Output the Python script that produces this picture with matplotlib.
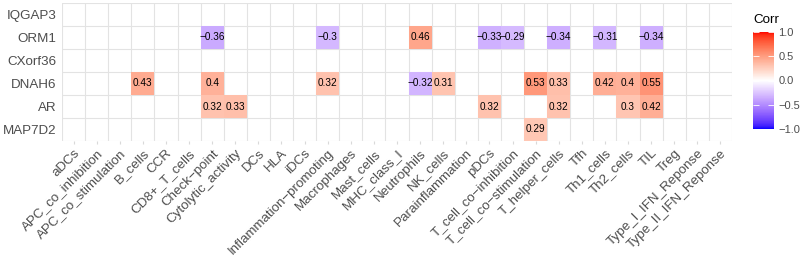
import matplotlib
matplotlib.use("Agg")
import matplotlib.pyplot as plt
import numpy as np
from matplotlib.colors import ListedColormap

plt.rcParams['font.family'] = ['Liberation Sans', 'DejaVu Sans']

genes = ["IQGAP3", "ORM1", "CXorf36", "DNAH6", "AR", "MAP7D2"]
cells = ["aDCs", "APC_co_inhibition", "APC_co_stimulation", "B_cells", "CCR",
         "CD8+_T_cells", "Check\u2212point", "Cytolytic_activity", "DCs", "HLA",
         "iDCs", "Inflammation\u2212promoting", "Macrophages", "Mast_cells",
         "MHC_class_I", "Neutrophils", "NK_cells", "Parainflammation", "pDCs",
         "T_cell_co\u2212inhibition", "T_cell_co\u2212stimulation", "T_helper_cells",
         "Tfh", "Th1_cells", "Th2_cells", "TIL", "Treg", "Type_I_IFN_Reponse",
         "Type_II_IFN_Reponse"]

# significant correlations only: (gene, cell, value)
sig_gene = ["ORM1", "ORM1", "ORM1", "ORM1", "ORM1", "ORM1", "ORM1", "ORM1",
            "DNAH6", "DNAH6", "DNAH6", "DNAH6", "DNAH6", "DNAH6", "DNAH6", "DNAH6",
            "DNAH6", "DNAH6",
            "AR", "AR", "AR", "AR", "AR", "AR",
            "MAP7D2"]
sig_cell = ["Check\u2212point", "Inflammation\u2212promoting", "Neutrophils", "pDCs",
            "T_cell_co\u2212inhibition", "T_helper_cells", "Th1_cells", "TIL",
            "B_cells", "Check\u2212point", "Inflammation\u2212promoting", "Neutrophils",
            "NK_cells", "T_cell_co\u2212stimulation", "T_helper_cells", "Th1_cells",
            "Th2_cells", "TIL",
            "Check\u2212point", "Cytolytic_activity", "pDCs", "T_helper_cells",
            "Th2_cells", "TIL",
            "T_cell_co\u2212stimulation"]
sig_corr = [-0.36, -0.30, 0.46, -0.33, -0.29, -0.34, -0.31, -0.34,
            0.43, 0.40, 0.32, -0.32, 0.31, 0.53, 0.33, 0.42, 0.40, 0.55,
            0.32, 0.33, 0.32, 0.32, 0.30, 0.42,
            0.29]


# ggplot-like gradient2 in Lab space
def srgb_to_lab(rgb):
    rgb = np.asarray(rgb, float)
    lin = np.where(rgb <= 0.04045, rgb / 12.92, ((rgb + 0.055) / 1.055) ** 2.4)
    m = np.array([[0.4124, 0.3576, 0.1805],
                  [0.2126, 0.7152, 0.0722],
                  [0.0193, 0.1192, 0.9505]])
    xyz = m @ lin / np.array([0.95047, 1.0, 1.08883])
    f = np.where(xyz > 0.008856, np.cbrt(xyz), 7.787 * xyz + 16 / 116)
    return np.array([116 * f[1] - 16, 500 * (f[0] - f[1]), 200 * (f[1] - f[2])])


def lab_to_srgb(lab):
    L, a, b = lab
    fy = (L + 16) / 116
    fx = fy + a / 500
    fz = fy - b / 200
    f = np.array([fx, fy, fz])
    xyz = np.where(f ** 3 > 0.008856, f ** 3, (f - 16 / 116) / 7.787)
    xyz = xyz * np.array([0.95047, 1.0, 1.08883])
    minv = np.array([[3.2406, -1.5372, -0.4986],
                     [-0.9689, 1.8758, 0.0415],
                     [0.0557, -0.2040, 1.0570]])
    lin = minv @ xyz
    rgb = np.where(lin <= 0.0031308, 12.92 * lin, 1.055 * np.clip(lin, 0, None) ** (1 / 2.4) - 0.055)
    return np.clip(rgb, 0, 1)


lab_lo = srgb_to_lab([0, 0, 1])
lab_mid = srgb_to_lab([1, 1, 1])
lab_hi = srgb_to_lab([1, 0, 0])
cols = []
for t in np.linspace(-1, 1, 256):
    if t < 0:
        lab = lab_mid + (lab_lo - lab_mid) * (-t)
    else:
        lab = lab_mid + (lab_hi - lab_mid) * t
    cols.append(lab_to_srgb(lab))
cmap = ListedColormap(cols)

mat = np.full((len(genes), len(cells)), np.nan)
for g, c, v in zip(sig_gene, sig_cell, sig_corr):
    mat[genes.index(g), cells.index(c)] = v

fig = plt.figure(figsize=(8, 2.59), dpi=100)
ax = fig.add_axes([62 / 800, 1 - 141 / 259, 670 / 800, 138 / 259])

mesh = ax.pcolormesh(np.arange(len(cells) + 1), np.arange(len(genes) + 1),
                     np.ma.masked_invalid(mat), cmap=cmap, vmin=-1, vmax=1, zorder=2)
ax.set_xlim(0, len(cells))
ax.set_ylim(len(genes), 0)

for i in range(len(genes)):
    for j in range(len(cells)):
        v = mat[i, j]
        if not np.isnan(v):
            txt = f"{v:g}".replace("-", "\u2212")
            ax.text(j + 0.5, i + 0.5, txt, ha="center", va="center",
                    fontsize=7.2, color="black", zorder=3)

ax.set_xticks(np.arange(len(cells)) + 0.5)
ax.set_xticklabels(cells, rotation=45, ha="right", rotation_mode="anchor",
                   fontsize=9.6, color="#4D4D4D")
ax.set_yticks(np.arange(len(genes)) + 0.5)
ax.set_yticklabels(genes, fontsize=9.6, color="#4D4D4D")
ax.set_xticks(np.arange(len(cells) + 1), minor=True)
ax.set_yticks(np.arange(len(genes) + 1), minor=True)
ax.grid(which="minor", color="#E3E3E3", linewidth=0.8, zorder=1)
ax.grid(which="major", visible=False)
ax.tick_params(which="major", length=2.5, color="#D9D9D9", pad=2)
ax.tick_params(which="minor", length=0)
ax.tick_params(axis="y", length=0, pad=4)
for s in ax.spines.values():
    s.set_visible(False)
ax.set_axisbelow(True)

cax = fig.add_axes([753 / 800, 1 - 129 / 259, 21 / 800, 97 / 259])
cb = fig.colorbar(mesh, cax=cax, ticks=[-1, -0.5, 0, 0.5, 1])
cb.ax.set_yticklabels(["\u22121.0", "\u22120.5", "0.0", "0.5", "1.0"],
                      fontsize=8, color="#4D4D4D")
cb.outline.set_visible(False)
cb.ax.tick_params(length=4, width=0.6, color="white", direction="in", pad=3)
cb.ax.yaxis.set_ticks_position("both")
cb.ax.tick_params(labelleft=False, labelright=True)
fig.text(753 / 800, 1 - 20 / 259, "Corr", fontsize=9.6, ha="left", va="center")

fig.savefig("out.png", dpi=100)
